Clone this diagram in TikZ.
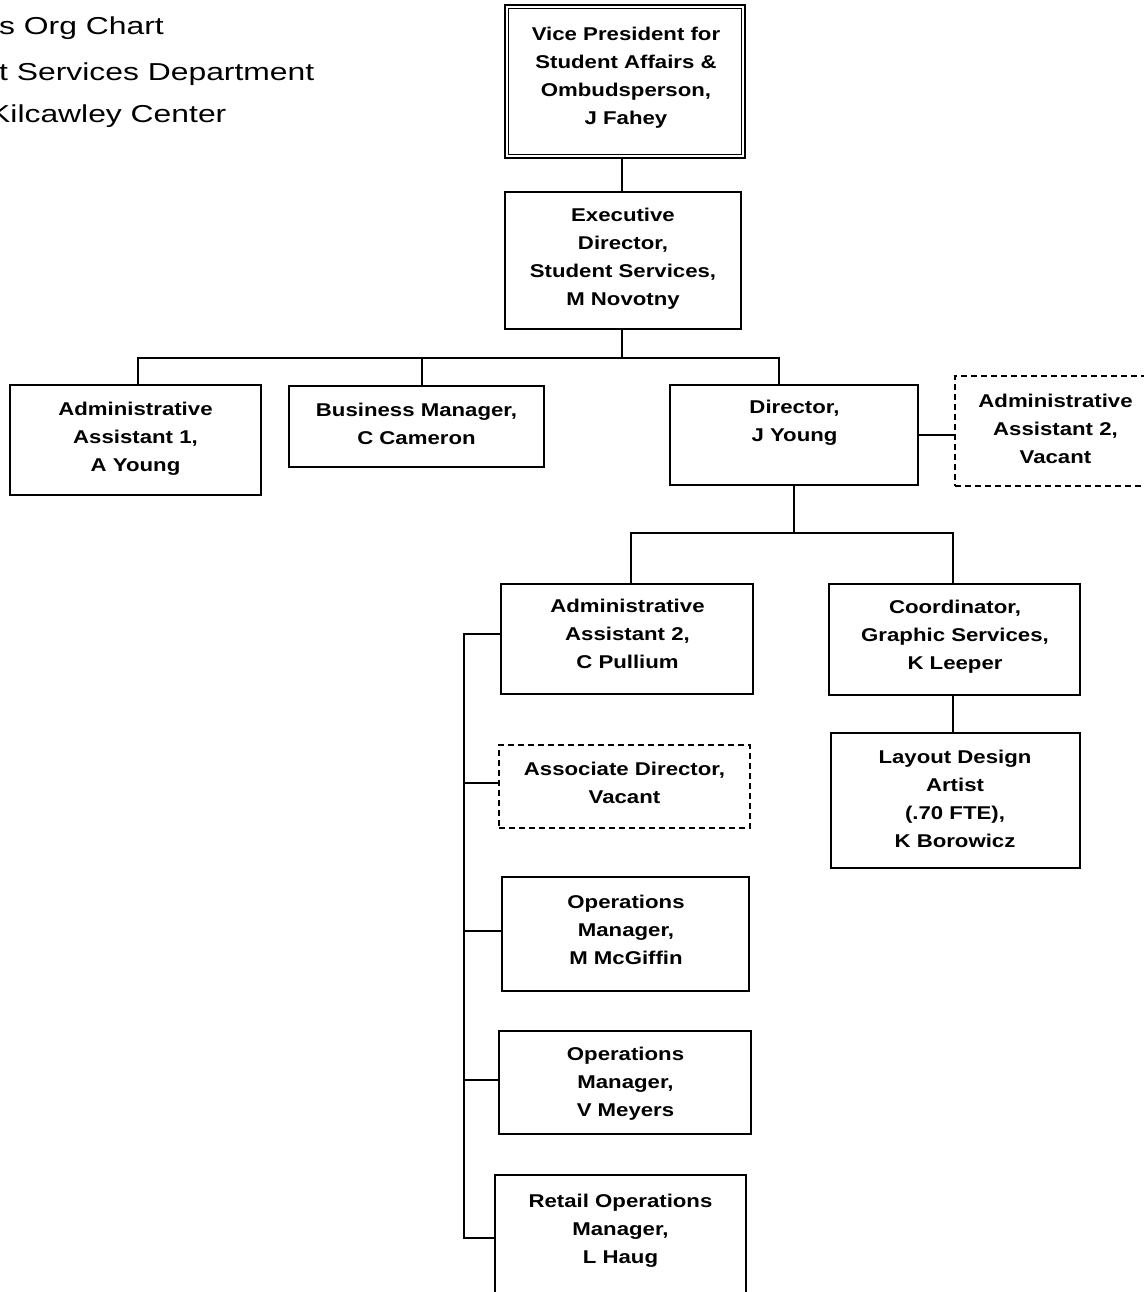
\documentclass[tikz,border=0pt]{standalone}
\usepackage{fontspec}
\newfontfamily\boxfont{Liberation Sans}[FakeStretch=1.2]
\newfontfamily\titlefont{Liberation Sans}[FakeStretch=1.3]
\tikzset{
  box/.style={draw, line width=1.9pt, rectangle, inner sep=0pt},
  vbox/.style={box, dash pattern=on 6pt off 4pt},
  txt/.style={font={\boxfont\bfseries\fontsize{18.5}{28}\selectfont}, align=center, inner sep=0pt, yshift=-4pt,
    execute at begin node=\strut, execute at end node=\strut},
  ttl/.style={font={\titlefont\fontsize{24.5}{30}\selectfont}, inner sep=0pt, anchor=base west},
  link/.style={line width=1.9pt}
}
\begin{document}
\begin{tikzpicture}[x=1pt,y=-1pt]
\useasboundingbox (0,0) rectangle (1143,1292);
% title
\node[ttl] (t1) at (-1,35) {s Org Chart};
\node[ttl] (t2) at (-1,80.5) {t Services Department};
\node[ttl] (t3) at (-11,122.5) {Kilcawley Center};
% boxes
\node[box, line width=2.4pt, minimum width=240pt, minimum height=153pt] (vp) at (625,81.5) {};
\draw[line width=1.2pt] ([xshift=4.5pt,yshift=-4.5pt]vp.north west) rectangle ([xshift=-4.5pt,yshift=4.5pt]vp.south east);
\node[txt] (vpt) at (626,76) {Vice President for\\Student Affairs \&\\Ombudsperson,\\J Fahey};

\node[box, minimum width=236pt, minimum height=137pt] (ex) at (623,260.5) {};
\node[txt] (ext) at (623,257) {Executive\\Director,\\Student Services,\\M Novotny};

\node[box, minimum width=251pt, minimum height=110pt] (aa1) at (135.5,440) {};
\node[txt] (aa1t) at (135.5,437) {Administrative\\Assistant 1,\\A Young};

\node[box, minimum width=255pt, minimum height=81pt] (bm) at (416.5,426.5) {};
\node[txt] (bmt) at (416.5,424) {Business Manager,\\C Cameron};

\node[box, minimum width=248pt, minimum height=100pt] (dir) at (794,435) {};
\node[txt] (dirt) at (794.5,421) {Director,\\J Young};

\node[vbox, minimum width=201pt, minimum height=110pt] (aav) at (1055.5,431) {};
\node[txt] (aavt) at (1055.5,428.5) {Administrative\\Assistant 2,\\Vacant};

\node[box, minimum width=252pt, minimum height=110pt] (pul) at (627,639) {};
\node[txt] (pult) at (627.5,633.5) {Administrative\\Assistant 2,\\C Pullium};

\node[box, minimum width=251pt, minimum height=111pt] (crd) at (954.5,639.5) {};
\node[txt] (crdt) at (955,635) {Coordinator,\\Graphic Services,\\K Leeper};

\node[box, minimum width=249pt, minimum height=135pt] (lay) at (955.5,800.5) {};
\node[txt] (layt) at (955,799) {Layout Design\\Artist\\(.70 FTE),\\K Borowicz};

\node[vbox, minimum width=251pt, minimum height=83pt] (asd) at (624.5,786.5) {};
\node[txt] (asdt) at (624.5,783) {Associate Director,\\Vacant};

\node[box, minimum width=247pt, minimum height=114pt] (mcg) at (625.5,934) {};
\node[txt] (mcgt) at (626,929.5) {Operations\\Manager,\\M McGiffin};

\node[box, minimum width=252pt, minimum height=103pt] (mey) at (625,1082.5) {};
\node[txt] (meyt) at (625.5,1082) {Operations\\Manager,\\V Meyers};

\node[box, minimum width=251pt, minimum height=125pt] (ret) at (620.5,1237.5) {};
\node[txt] (rett) at (620.5,1229) {Retail Operations\\Manager,\\L Haug};

% junction coordinates
\coordinate (busA) at (622,358);
\coordinate (dA1) at (138,358);
\coordinate (dBM) at (422,358);
\coordinate (dDR) at (779,358);
\coordinate (busB) at (794,533);
\coordinate (dPU) at (631,533);
\coordinate (dCR) at (953,533);
\coordinate (s1) at (464,634);
\coordinate (s2) at (464,783);
\coordinate (s3) at (464,931);
\coordinate (s4) at (464,1080);
\coordinate (s5) at (464,1238);

% connectors
\draw[link] (vp.south -| busA) -- (ex.north -| busA);
\draw[link] (ex.south -| busA) -- (busA);
\draw[link] (aa1.north -| dA1) -- (dA1) -- (dDR) -- (dir.north -| dDR);
\draw[link] (dBM) -- (bm.north -| dBM);
\draw[link] (dir.east) -- (dir.east -| aav.west);
\draw[link] (dir.south -| busB) -- (busB);
\draw[link] (pul.north -| dPU) -- (dPU) -- (dCR) -- (crd.north -| dCR);
\draw[link] (crd.south -| dCR) -- (lay.north -| dCR);
\draw[link] (s1 -| pul.west) -- (s1) -- (s5) -- (s5 -| ret.west);
\draw[link] (s2) -- (s2 -| asd.west);
\draw[link] (s3) -- (s3 -| mcg.west);
\draw[link] (s4) -- (s4 -| mey.west);
\end{tikzpicture}
\end{document}
